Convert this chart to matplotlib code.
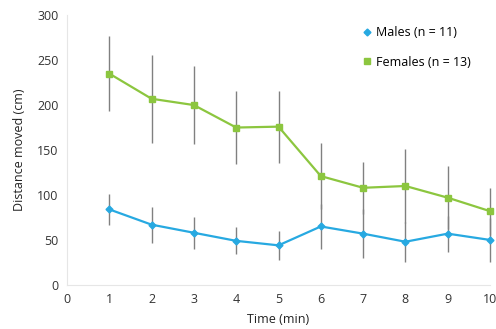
import numpy as np
from matplotlib import pyplot as plt
from matplotlib.lines import Line2D

minutes = [1, 2, 3, 4, 5, 6, 7, 8, 9, 10]
males = [84, 67, 58, 49, 44, 65, 57, 48, 57, 50]
males_err = [17, 20, 18, 15, 16, 25, 27, 22, 20, 24]
females = [235, 207, 200, 175, 176, 121, 108, 110, 97, 82]
females_err = [42, 49, 43, 41, 40, 37, 29, 41, 35, 26]

plt.rcParams['font.family'] = ['Open Sans', 'DejaVu Sans']

fig = plt.figure(figsize=(4.96, 3.29), dpi=100)
ax = fig.add_axes([0.135, 0.134, 0.853, 0.82])

for vals, errs, col, mk, ms in [(females, females_err, '#8cc63f', 's', 4),
                                (males, males_err, '#27a9e1', 'D', 3.5)]:
    ax.errorbar(minutes, vals, yerr=errs, fmt='none', ecolor='#808080',
                elinewidth=1, capsize=0, zorder=2, clip_on=False)
    ax.plot(minutes, vals, color=col, marker=mk, markersize=ms, linewidth=1.6,
            zorder=3, clip_on=False)

ax.set_xlim(0, 10)
ax.set_ylim(0, 300)
ax.set_xticks(range(0, 11))
ax.set_yticks(range(0, 301, 50))
ax.tick_params(length=0, labelsize=9, colors='#333333', pad=6)
for s in ['top', 'right']:
    ax.spines[s].set_visible(False)
for s in ['left', 'bottom']:
    ax.spines[s].set_color('#e6e6e6')

ax.set_xlabel('Time (min)', fontsize=9, color='#222222', labelpad=5)
ax.set_ylabel('Distance moved (cm)', fontsize=9, color='#222222', labelpad=8)

handles = [Line2D([], [], color='#27a9e1', marker='D', markersize=3.5, linestyle='None'),
           Line2D([], [], color='#8cc63f', marker='s', markersize=4, linestyle='None')]
ax.legend(handles, ['Males (n = 11)', 'Females (n = 13)'], loc='upper right',
          bbox_to_anchor=(0.98, 1.0), frameon=False, fontsize=9, handlelength=0.6,
          handletextpad=0.4, labelspacing=1.3)

fig.savefig('out.png', dpi=100)
